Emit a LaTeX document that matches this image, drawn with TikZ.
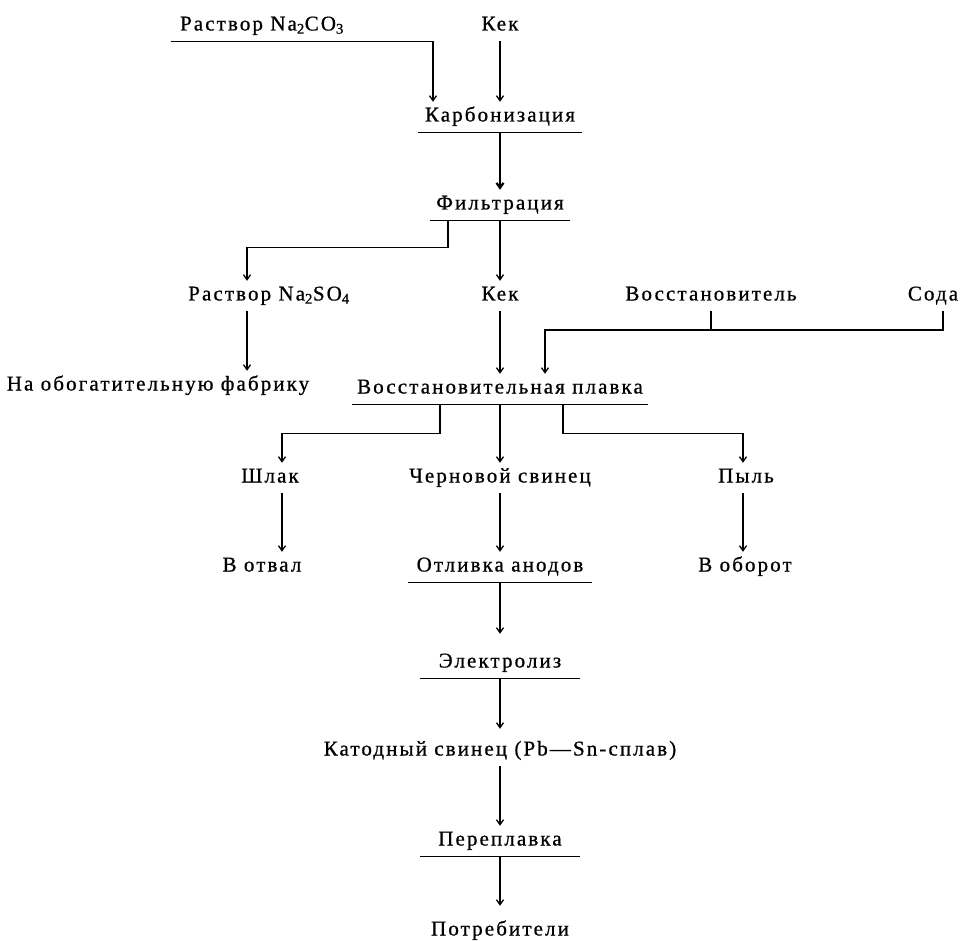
\documentclass[tikz,border=0pt]{standalone}
\usepackage{fontspec}
\setmainfont{Liberation Serif}[LetterSpace=10,FakeBold=0.8]
\usetikzlibrary{arrows.meta,positioning}

\begin{document}
\begin{tikzpicture}
  [x=1pt, y=-1pt,
   every node/.style={font=\fontsize{21}{24}\selectfont,
     text height=12pt, text depth=3pt, inner ysep=7.5pt},
   proc/.style={minimum width=#1,
     append after command={(\tikzlastnode.south west) edge[line] (\tikzlastnode.south east)}},
   line/.style={-,line width=1.3pt},
   post/.style={->,>={Straight Barb[length=5pt,width=7pt]},line width=1.3pt}]

  \useasboundingbox (0,0) rectangle (961,941);

  \node (na2co3) at (262,26) {Раствор Na\textsubscript{2}CO\textsubscript{3}};
  \node (kek1)   at (500,26) {Кек};
  \node[proc=164pt] (karb) at (500,117) {Карбонизация};
  \node[proc=140pt] (filt) at (500,205) {Фильтрация};

  \node (sol2)   at (269,296) {Раствор Na\textsubscript{2}SO\textsubscript{4}};
  \node (kek2)   at (500,296) {Кек};
  \node (vosst)  at (711,296) {Восстановитель};
  \node (soda)   at (933,296) {Сода};

  \node (fabr)   at (158,386) {На обогатительную фабрику};
  \node[proc=295pt] (plav) at (500,389) {Восстановительная плавка};

  \node (shlak)  at (270,478) {Шлак};
  \node (chern)  at (500,478) {Черновой свинец};
  \node (pyl)    at (746,478) {Пыль};

  \node (otval)  at (262,567) {В отвал};
  \node[proc=183pt] (otl) at (500,567) {Отливка анодов};
  \node (oborot) at (745,567) {В оборот};

  \node[proc=160pt] (elek) at (500,663) {Электролиз};
  \node (katod)  at (500,751) {Катодный свинец (Pb—Sn-сплав)};
  \node[proc=160pt] (perepl) at (500,841) {Переплавка};
  \node (potr)   at (500,931) {Потребители};

  \coordinate (bus) at (545,330);

  \draw[post] ([xshift=-6pt]na2co3.south west) -| ([xshift=-67pt]karb.north);
  \draw[post] (kek1) -- (karb);
  \draw[post,line width=2.2pt] (karb) -- (filt);
  \draw[post] ([xshift=-52pt]filt.south) -- ++(0,27) -| ([xshift=-22pt]sol2.north);
  \draw[post] (filt) -- (kek2);
  \draw[post] ([xshift=10pt]soda.south) |- (bus) -- (bus |- plav.north);
  \draw[line] (vosst) -- (vosst |- bus);
  \draw[post] ([xshift=-22pt]sol2.south) -- ([xshift=-22pt]sol2.south |- fabr.north);
  \draw[post] (kek2) -- (plav);

  \draw[post] ([xshift=-60pt]plav.south) -- ++(0,29) -| ([xshift=12pt]shlak.north);
  \draw[post] (plav) -- (chern);
  \draw[post] ([xshift=63pt]plav.south) -- ++(0,29) -| ([xshift=-3pt]pyl.north);

  \draw[post] ([xshift=12pt]shlak.south) -- ([xshift=12pt]shlak.south |- otval.north);
  \draw[post] (chern) -- (otl);
  \draw[post] ([xshift=-3pt]pyl.south) -- ([xshift=-3pt]pyl.south |- oborot.north);

  \draw[post,shorten >=14pt] (otl) -- (elek);
  \draw[post,shorten >=7pt] (elek) -- (katod);
  \draw[post] (katod) -- (perepl);
  \draw[post,shorten >=10pt] (perepl) -- (potr);
\end{tikzpicture}
\end{document}
